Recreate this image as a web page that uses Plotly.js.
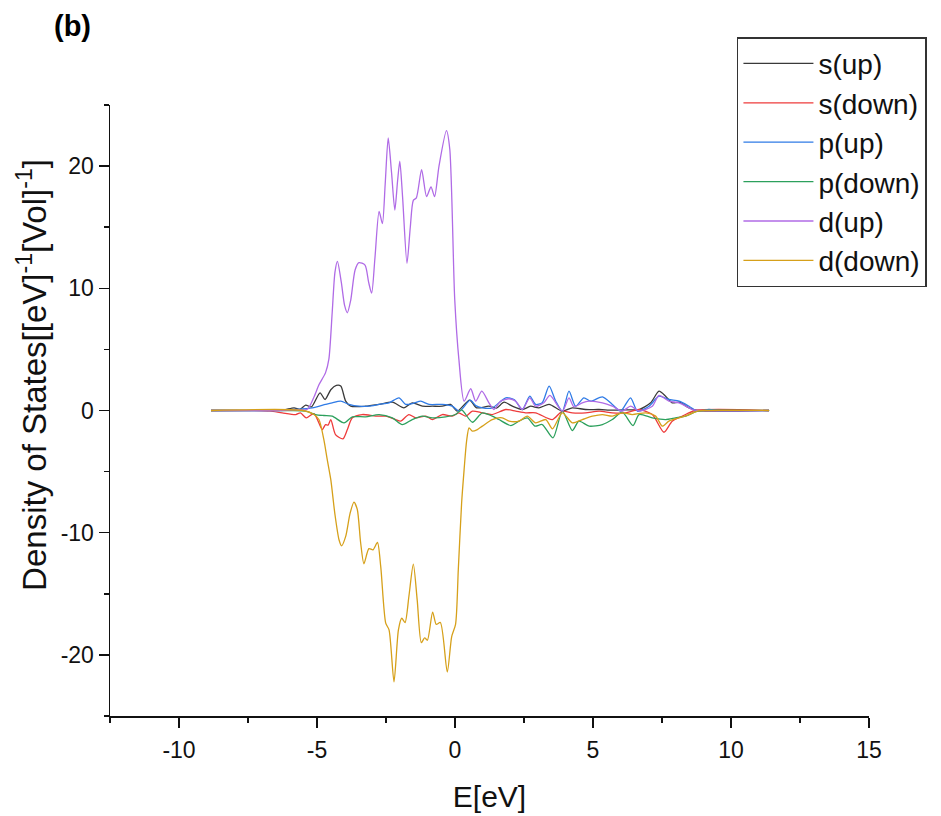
<!DOCTYPE html>
<html>
<head>
<meta charset="utf-8">
<script src="https://cdn.plot.ly/plotly-3.0.1.min.js"></script>
<style>html,body{margin:0;padding:0;background:#fff;}#chart{width:941px;height:816px;}</style>
</head>
<body>
<div id="chart"></div>
<script>
// Series names
const seriesNames = ["s(up)", "s(down)", "p(up)", "p(down)", "d(up)", "d(down)"];

// Tick labels (hyphen minus as in the original)
const xTickVals = [-10, -5, 0, 5, 10, 15];
const xTickText = ["-10", "-5", "0", "5", "10", "15"];
const yTickVals = [-20, -10, 0, 10, 20];
const yTickText = ["-20", "-10", "0", "10", "20"];

// s(up)
const sUpX = [-8.84,-6.8,-6.5,-6.2,-5.83,-5.62,-5.41,-5.2,-4.89,-4.71,-4.5,-4.30,-4.14,-3.96,-3.78,-3.24,-2.75,-2.27,-1.85,-1.55,-1.18,-0.82,-0.46,-0.16,0.08,0.53,0.78,1.23,1.5,1.78,2.08,2.44,2.74,3.04,3.41,3.89,4.25,4.73,5.22,5.7,6.2,6.67,7.09,7.39,7.63,7.87,8.12,8.48,8.8,11.38];
const sUpY = [0,0,0.05,0.05,0.22,0.1,0.44,0.3,1.45,0.9,1.7,2.05,2.0,0.76,0.35,0.35,0.5,0.68,0.22,0.63,0.35,0.35,0.35,0.5,-0.05,0.85,0.22,0.35,0.2,0.68,0.35,0.08,0.35,0.22,0.5,-0.05,0.22,0.08,0.08,0.03,0.05,0.08,0.63,1.58,1.17,0.63,0.68,0.22,0,0];

// s(down)
const sDownX = [-8.84,-7,-6.68,-6.26,-5.77,-5.6,-5.39,-5.11,-4.81,-4.69,-4.6,-4.5,-4.33,-4.06,-3.9,-3.72,-3.36,-2.87,-2.51,-2.15,-1.97,-1.67,-1.42,-1.06,-0.82,-0.46,-0.1,0.14,0.39,0.63,0.99,1.35,1.84,2.2,2.56,2.92,3.53,3.89,4.25,4.73,5.22,5.7,6.18,6.67,7.15,7.57,7.87,8.24,8.7,11.38];
const sDownY = [0,0,-0.05,-0.19,-0.33,-0.2,-0.6,-0.25,-1.56,-1.15,-1.2,-0.74,-1.97,-2.32,-1.56,-0.6,-0.33,-0.46,-0.46,-0.74,-0.87,-0.33,-0.6,-0.46,-0.74,-0.33,-0.46,-0.19,-0.46,-0.05,-0.19,-0.33,0.08,-0.05,-0.19,-0.19,-0.74,-0.05,-0.19,-0.19,-0.05,-0.19,-0.19,0.08,-0.33,-1.78,-0.87,-0.46,0,0];

// p(up)
const pUpX = [-8.84,-6.3,-5.77,-5.17,-4.69,-4.45,-4.14,-3.84,-3.48,-3.12,-2.75,-2.39,-2.03,-1.79,-1.5,-1.24,-0.94,-0.46,-0.1,0.17,0.55,0.75,0.99,1.35,1.84,2.14,2.44,2.71,2.92,3.16,3.41,3.65,3.89,4.13,4.37,4.67,4.92,5.34,5.7,6.0,6.36,6.61,7.03,7.39,7.75,8.12,8.48,8.78,9.2,9.5,11.38];
const pUpY = [0,0,0.08,0.22,0.5,0.63,0.76,0.5,0.35,0.35,0.5,0.63,1.04,0.5,0.6,0.76,0.5,0.5,0.35,-0.05,0.85,0.4,0.22,0.22,1.04,0.9,0.08,1.17,0.5,0.63,2.0,0.76,-0.05,1.58,0.35,1.04,0.76,1.12,0.5,-0.05,1.04,-0.05,0.35,1.17,0.9,0.76,0.35,-0.05,0.08,0,0];

// p(down)
const pDownX = [-8.84,-6,-5.41,-5.05,-4.75,-4.45,-4.02,-3.72,-3.24,-2.75,-2.27,-1.91,-1.55,-1.18,-0.82,-0.34,0.02,0.24,0.63,0.99,1.35,1.59,2.02,2.32,2.62,2.9,3.16,3.55,3.89,4.25,4.49,4.86,5.34,5.7,6.06,6.45,6.67,7.15,7.63,7.99,8.36,8.72,9.0,11.38];
const pDownY = [0,0,-0.05,-0.33,-0.41,-0.46,-1.01,-0.52,-0.52,-0.33,-0.6,-1.15,-0.74,-0.46,-0.6,-0.52,-0.33,0.05,-0.96,-0.19,-0.46,-0.74,-1.23,-0.87,-0.6,-1.28,-1.15,-2.24,-0.05,-1.64,-0.87,-1.28,-1.15,-0.74,-0.14,-1.23,-0.33,-0.6,-0.74,-0.6,-0.46,-0.1,0,0];

// d(up)
const dUpX = [-8.84,-6.5,-5.8,-5.35,-5.11,-4.93,-4.69,-4.57,-4.45,-4.35,-4.26,-4.12,-4.0,-3.9,-3.78,-3.62,-3.48,-3.26,-3.13,-3.02,-2.9,-2.75,-2.63,-2.53,-2.42,-2.3,-2.18,-2.08,-2.0,-1.9,-1.74,-1.62,-1.51,-1.40,-1.21,-1.03,-0.87,-0.74,-0.58,-0.31,-0.19,-0.01,0.14,0.33,0.57,0.75,0.97,1.23,1.41,1.65,1.96,2.2,2.44,2.71,2.92,3.22,3.44,3.89,4.13,4.31,4.61,4.86,5.34,5.7,6.06,6.36,6.67,7.15,7.39,7.75,8.12,8.6,8.9,11.38];
const dUpY = [0,0,0.05,0.1,1.1,2.1,3.1,4.2,8.0,11.3,12.2,10.5,8.6,8.0,9.0,11.5,12.1,11.9,10.5,9.6,12.5,16.3,15.3,18.5,22.3,19.5,16.4,18.8,20.4,17.5,12.05,15.0,17.2,17.4,19.7,17.5,18.3,17.5,20.0,22.9,21.4,9.1,4.2,0.76,1.78,0.76,1.58,0.63,0.08,0.76,0.96,0.76,0.08,1.04,0.35,0.63,1.23,-0.05,1.04,0.3,0.63,0.76,0.63,0.35,-0.05,0.35,-0.05,0.35,1.23,0.76,0.63,0.08,0,0];

// d(down)
const dDownX = [-8.84,-5.5,-5.11,-4.93,-4.75,-4.63,-4.5,-4.35,-4.2,-4.11,-3.96,-3.8,-3.66,-3.54,-3.42,-3.30,-3.12,-2.97,-2.81,-2.69,-2.51,-2.39,-2.21,-2.05,-1.93,-1.81,-1.67,-1.51,-1.37,-1.22,-1.10,-1.0,-0.81,-0.68,-0.53,-0.28,-0.12,0.02,0.12,0.24,0.33,0.42,0.51,0.63,0.81,0.99,1.35,1.71,1.96,2.32,2.62,2.92,3.29,3.53,3.89,4.25,4.61,4.98,5.34,5.7,6.06,6.42,6.91,7.27,7.51,7.75,8.12,8.48,8.78,9.0,11.38];
const dDownY = [0,0,-0.33,-0.74,-2.4,-4.0,-5.66,-8.5,-10.6,-11.07,-10.3,-8.4,-7.5,-8.1,-10.8,-12.54,-11.3,-11.4,-10.8,-12.8,-17.4,-17.95,-22.2,-17.95,-17.0,-17.35,-15.2,-12.57,-15.5,-19.0,-18.6,-18.8,-16.5,-17.5,-17.35,-21.4,-18.5,-17.5,-13,-7.57,-4.84,-2.5,-1.42,-1.69,-1.56,-1.28,-0.74,-0.6,-0.87,-0.87,-0.46,-1.01,-0.74,-1.5,-0.19,-1.01,-0.74,-0.46,-0.33,-0.46,-0.19,-0.33,-0.19,-0.46,-1.28,-0.87,-0.6,-0.33,-0.05,0,0];

const colors = ["#3a3a3a", "#ee3b3b", "#2f7be6", "#2ca05c", "#b06be6", "#d6a01a"];

const xs = [sUpX, sDownX, pUpX, pDownX, dUpX, dDownX];
const ys = [sUpY, sDownY, pUpY, pDownY, dUpY, dDownY];

const FONT = "Arial, 'Liberation Sans', sans-serif";

const traces = seriesNames.map((name, i) => ({
  type: "scatter",
  mode: "lines",
  name: name,
  x: xs[i],
  y: ys[i],
  line: {color: colors[i], width: 1.3, shape: "spline", smoothing: 0.7}
}));

const layout = {
  width: 941,
  height: 816,
  margin: {l: 110, r: 72, t: 105, b: 100},
  paper_bgcolor: "#fff",
  plot_bgcolor: "#fff",
  font: {family: FONT, color: "#111"},
  showlegend: true,
  legend: {
    x: 0.826, xanchor: "left",
    y: 1.111, yanchor: "top",
    bgcolor: "#fff",
    bordercolor: "#333",
    borderwidth: 1.5,
    font: {family: FONT, size: 28, color: "#111"},
    tracegroupgap: 0,
    itemwidth: 70
  },
  xaxis: {
    range: [-12.5, 15],
    tickmode: "array", tickvals: xTickVals, ticktext: xTickText,
    ticks: "outside", ticklen: 10, tickwidth: 1.5, tickcolor: "#111",
    ticklabelstandoff: 3,
    minor: {tickmode: "linear", tick0: 0, dtick: 2.5, ticks: "outside", ticklen: 5, tickwidth: 1.5, tickcolor: "#111"},
    showline: true, linecolor: "#111", linewidth: 1.5,
    showgrid: false, zeroline: false,
    tickfont: {family: FONT, size: 23, color: "#111"},
    title: {text: "E[eV]", font: {family: FONT, size: 30, color: "#111"}, standoff: 24}
  },
  yaxis: {
    range: [-25, 25],
    tickmode: "array", tickvals: yTickVals, ticktext: yTickText,
    ticks: "outside", ticklen: 10, tickwidth: 1.5, tickcolor: "#111",
    minor: {tickmode: "linear", tick0: 0, dtick: 5, ticks: "outside", ticklen: 5, tickwidth: 1.5, tickcolor: "#111"},
    showline: true, linecolor: "#111", linewidth: 1.5,
    showgrid: false, zeroline: false,
    tickfont: {family: FONT, size: 23, color: "#111"}
  },
  annotations: [{
    text: "<b>(b)</b>",
    xref: "paper", yref: "paper",
    x: -0.077, xanchor: "left",
    y: 1.158, yanchor: "top",
    showarrow: false,
    font: {family: FONT, size: 29, color: "#000"}
  }, {
    text: "Density of States[[eV]<sup>-1</sup>[Vol]<sup>-1</sup>]",
    xref: "paper", yref: "paper",
    x: -0.103, xanchor: "center",
    y: 0.558, yanchor: "middle",
    textangle: -90,
    showarrow: false,
    font: {family: FONT, size: 33, color: "#111"}
  }]
};

Plotly.newPlot("chart", traces, layout, {displayModeBar: false, staticPlot: true});
</script>
</body>
</html>
